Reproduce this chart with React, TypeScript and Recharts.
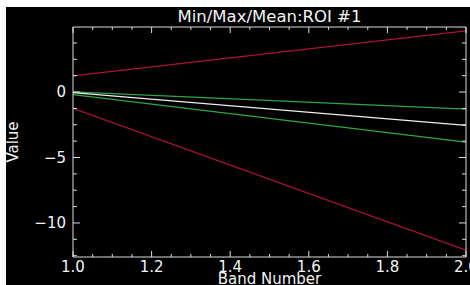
import { LineChart, Line, XAxis, YAxis } from 'recharts';

// band positions and ROI statistics
const bands = [1.0, 2.0];
const maxValues = [1.23, 4.67];
const plusStdev = [0.02, -1.3];
const meanValues = [-0.05, -2.54];
const minusStdev = [-0.2, -3.82];
const minValues = [-1.25, -12.08];

const xTicks = [1.0, 1.05, 1.1, 1.15, 1.2, 1.25, 1.3, 1.35, 1.4, 1.45, 1.5, 1.55, 1.6, 1.65, 1.7, 1.75, 1.8, 1.85, 1.9, 1.95, 2.0];
const xMajor = [1.0, 1.2, 1.4, 1.6, 1.8, 2.0];
const yTicks = [3.75, 2.5, 1.25, 0, -1.25, -2.5, -3.75, -5, -6.25, -7.5, -8.75, -10, -11.25, -12.5];
const yMajor = [0, -5, -10];

const data = bands.map((band, i) => ({
  band,
  max: maxValues[i],
  plus: plusStdev[i],
  mean: meanValues[i],
  minus: minusStdev[i],
  min: minValues[i],
}));

const AXIS = '#dcdcdc';
const TEXT = '#f4f4f4';
const RED = '#ad1430';
const GREEN = '#2fa844';
const FONT = '"DejaVu Sans", sans-serif';

const isMajor = (list: number[], v: number) => list.some((m) => Math.abs(m - v) < 1e-6);

const BottomTick = ({ x, y, payload }: any) => {
  const major = isMajor(xMajor, payload.value);
  return (
    <g>
      <line x1={x} x2={x} y1={y} y2={y - (major ? 6 : 3)} stroke={AXIS} />
      {major && (
        <text x={x} y={y + 15} textAnchor="middle" fill={TEXT} fontSize={15} fontFamily={FONT}>
          {payload.value.toFixed(1)}
        </text>
      )}
    </g>
  );
};

const TopTick = ({ x, y, payload }: any) => {
  const major = isMajor(xMajor, payload.value);
  return <line x1={x} x2={x} y1={y} y2={y + (major ? 6 : 3)} stroke={AXIS} />;
};

const LeftTick = ({ x, y, payload }: any) => {
  const major = isMajor(yMajor, payload.value);
  return (
    <g>
      <line x1={x} x2={x + (major ? 7 : 4)} y1={y} y2={y} stroke={AXIS} />
      {major && (
        <text x={x - 7} y={y + 5} textAnchor="end" fill={TEXT} fontSize={15} fontFamily={FONT}>
          {payload.value === 0 ? '0' : '\u2212' + Math.abs(payload.value)}
        </text>
      )}
    </g>
  );
};

const RightTick = ({ x, y, payload }: any) => {
  const major = isMajor(yMajor, payload.value);
  return <line x1={x} x2={x - (major ? 7 : 4)} y1={y} y2={y} stroke={AXIS} />;
};

export default function App() {
  return (
    <div style={{ position: 'fixed', left: 6, top: 7, width: 464, height: 278, background: '#000', overflow: 'hidden' }}>
      <LineChart width={464} height={278} data={data} margin={{ top: 0, right: 0, bottom: 0, left: 0 }}>
        <XAxis
          dataKey="band"
          type="number"
          domain={[1, 2]}
          allowDataOverflow
          ticks={xTicks}
          interval={0}
          height={28}
          tickSize={0}
          tickMargin={0}
          tickLine={false}
          axisLine={{ stroke: AXIS }}
          tick={<BottomTick />}
          label={{ value: 'Band Number', position: 'insideBottom', offset: 1, fill: TEXT, fontSize: 15, fontFamily: FONT }}
        />
        <XAxis
          xAxisId="top"
          orientation="top"
          dataKey="band"
          type="number"
          domain={[1, 2]}
          allowDataOverflow
          ticks={xTicks}
          interval={0}
          height={20}
          tickSize={0}
          tickMargin={0}
          tickLine={false}
          axisLine={{ stroke: AXIS }}
          tick={<TopTick />}
          label={{ value: 'Min/Max/Mean:ROI #1', position: 'insideBottom', offset: 5, fill: TEXT, fontSize: 16.5, fontFamily: FONT }}
        />
        <YAxis
          type="number"
          domain={[-12.6, 4.97]}
          allowDataOverflow
          ticks={yTicks}
          interval={0}
          width={67}
          tickSize={0}
          tickMargin={0}
          tickLine={false}
          axisLine={{ stroke: AXIS }}
          tick={<LeftTick />}
          label={{ value: 'Value', angle: -90, position: 'insideLeft', offset: 7, fill: TEXT, fontSize: 15, fontFamily: FONT, style: { textAnchor: 'middle' } }}
        />
        <YAxis
          yAxisId="right"
          orientation="right"
          type="number"
          domain={[-12.6, 4.97]}
          allowDataOverflow
          ticks={yTicks}
          interval={0}
          width={4}
          tickSize={0}
          tickMargin={0}
          tickLine={false}
          axisLine={{ stroke: AXIS }}
          tick={<RightTick />}
        />
        <Line type="linear" dataKey="max" stroke={RED} strokeWidth={1.2} dot={false} isAnimationActive={false} />
        <Line type="linear" dataKey="plus" stroke={GREEN} strokeWidth={1.2} dot={false} isAnimationActive={false} />
        <Line type="linear" dataKey="mean" stroke="#f0f0f0" strokeWidth={1.2} dot={false} isAnimationActive={false} />
        <Line type="linear" dataKey="minus" stroke={GREEN} strokeWidth={1.2} dot={false} isAnimationActive={false} />
        <Line type="linear" dataKey="min" stroke={RED} strokeWidth={1.2} dot={false} isAnimationActive={false} />
      </LineChart>
    </div>
  );
}
